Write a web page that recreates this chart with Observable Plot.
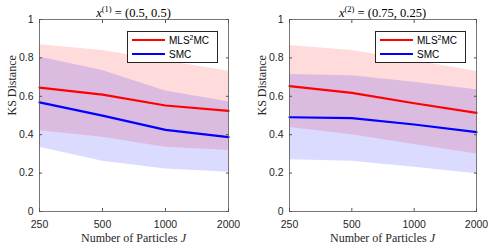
<!DOCTYPE html>
<html>
<head>
<meta charset="utf-8">
<script src="https://cdn.jsdelivr.net/npm/d3@7"></script>
<script src="https://cdn.jsdelivr.net/npm/@observablehq/plot@0.6"></script>
<style>
  html, body { margin: 0; padding: 0; background: white; }
  #wrap { position: relative; width: 491px; height: 246px; display: flex; }
  .panel { position: relative; }
  .title { position: absolute; top: 2px; font-family: "Liberation Serif", serif; font-size: 12.5px; color: #000; white-space: nowrap; transform: translateX(-50%); line-height: 14px; }
  .title sup { font-size: 8.5px; }
  .xlabel { position: absolute; top: 231px; font-family: "Liberation Serif", serif; font-size: 12px; color: #262626; white-space: nowrap; transform: translateX(-50%); line-height: 14px; }
  .legend { position: absolute; top: 31px; width: 91px; height: 32px; background: white; border: 0.8px solid #262626; box-sizing: border-box; font-family: "Liberation Sans", sans-serif; font-size: 10px; color: #000; }
  .legend .row { position: absolute; left: 0; height: 12px; display: flex; align-items: center; }
  .legend .sw { width: 33px; height: 2.2px; margin-left: 4px; margin-right: 4px; }
  .legend sup { font-size: 7px; vertical-align: 4px; }
</style>
</head>
<body>
<div id="wrap"></div>
<script>
// ---- data ----
const particles = [250, 500, 1000, 2000];
const seriesNames = ["MLS2MC", "SMC"];
const seriesColors = ["#ff0000", "#0000ff"];
const yTicks = [0, 0.2, 0.4, 0.6, 0.8, 1];

// panel 1: x(1) = (0.5, 0.5)
const mls1   = [0.645, 0.609, 0.552, 0.524];
const mls1Lo = [0.420, 0.387, 0.335, 0.318];
const mls1Hi = [0.868, 0.838, 0.785, 0.730];
const smc1   = [0.568, 0.499, 0.425, 0.387];
const smc1Lo = [0.335, 0.262, 0.222, 0.205];
const smc1Hi = [0.805, 0.734, 0.627, 0.572];

// panel 2: x(2) = (0.75, 0.25)
const mls2   = [0.653, 0.618, 0.564, 0.514];
const mls2Lo = [0.437, 0.400, 0.349, 0.300];
const mls2Hi = [0.865, 0.839, 0.787, 0.729];
const smc2   = [0.491, 0.486, 0.453, 0.413];
const smc2Lo = [0.269, 0.262, 0.231, 0.196];
const smc2Hi = [0.714, 0.707, 0.673, 0.634];

function rowsFor(series, mean, lo, hi) {
  return particles.map((n, i) => ({n, series, mean: mean[i], lo: lo[i], hi: hi[i]}));
}

function panel(rows, opts) {
  const chart = Plot.plot({
    width: opts.width, height: 246,
    marginLeft: opts.ml, marginRight: opts.mr, marginTop: 19, marginBottom: 35,
    style: {fontFamily: "Liberation Sans, sans-serif", fontSize: "10.5px", color: "#262626", background: "white"},
    x: {type: "log", base: 2, domain: [250, 2000]},
    y: {domain: [0, 1]},
    color: {domain: seriesNames, range: seriesColors},
    marks: [
      Plot.areaY(rows, {x: "n", y1: "lo", y2: "hi", z: "series", fill: "series", fillOpacity: 0.14}),
      Plot.lineY(rows, {x: "n", y: "mean", z: "series", stroke: "series", strokeWidth: 2.2}),
      Plot.frame({stroke: "#555", strokeWidth: 0.8}),
      Plot.axisX({anchor: "bottom", ticks: particles, tickFormat: d => String(d), tickSize: -3, tickPadding: 12, label: null, stroke: "#555"}),
      Plot.axisX({anchor: "top", ticks: particles, tickFormat: () => "", tickSize: -3, label: null, stroke: "#555"}),
      Plot.axisY({anchor: "left", ticks: yTicks, tickFormat: d => String(d), tickSize: -3, tickPadding: 9, label: null, stroke: "#555"}),
      Plot.axisY({anchor: "right", ticks: yTicks, tickFormat: () => "", tickSize: -3, label: null, stroke: "#555"}),
      Plot.text(["KS Distance"], {frameAnchor: "left", text: d => d, rotate: -90, dx: -27, fontFamily: "Liberation Serif, serif", fontSize: 12, fill: "#262626"})
    ]
  });
  const div = document.createElement("div");
  div.className = "panel";
  div.style.width = opts.width + "px";
  div.style.height = "246px";
  div.appendChild(chart);
  const cx = opts.ml + (opts.width - opts.ml - opts.mr) / 2;
  const t = document.createElement("div");
  t.className = "title";
  t.style.left = cx + "px";
  t.innerHTML = opts.title;
  div.appendChild(t);
  const xl = document.createElement("div");
  xl.className = "xlabel";
  xl.style.left = cx + "px";
  xl.innerHTML = "Number of Particles <i>J</i>";
  div.appendChild(xl);
  const lg = document.createElement("div");
  lg.className = "legend";
  lg.style.left = (opts.width - opts.mr - 10 - 91) + "px";
  lg.innerHTML =
    `<div class="row" style="top:2px"><div class="sw" style="background:${seriesColors[0]}"></div><span>MLS<sup>2</sup>MC</span></div>` +
    `<div class="row" style="top:16px"><div class="sw" style="background:${seriesColors[1]}"></div><span>SMC</span></div>`;
  div.appendChild(lg);
  return div;
}

const rows1 = [...rowsFor("MLS2MC", mls1, mls1Lo, mls1Hi), ...rowsFor("SMC", smc1, smc1Lo, smc1Hi)];
const rows2 = [...rowsFor("MLS2MC", mls2, mls2Lo, mls2Hi), ...rowsFor("SMC", smc2, smc2Lo, smc2Hi)];

const wrap = document.getElementById("wrap");
wrap.appendChild(panel(rows1, {width: 245, ml: 39, mr: 17, title: "<i>x</i><sup>(1)</sup> = (0.5, 0.5)"}));
wrap.appendChild(panel(rows2, {width: 246, ml: 44, mr: 15, title: "<i>x</i><sup>(2)</sup> = (0.75, 0.25)"}));
</script>
</body>
</html>
